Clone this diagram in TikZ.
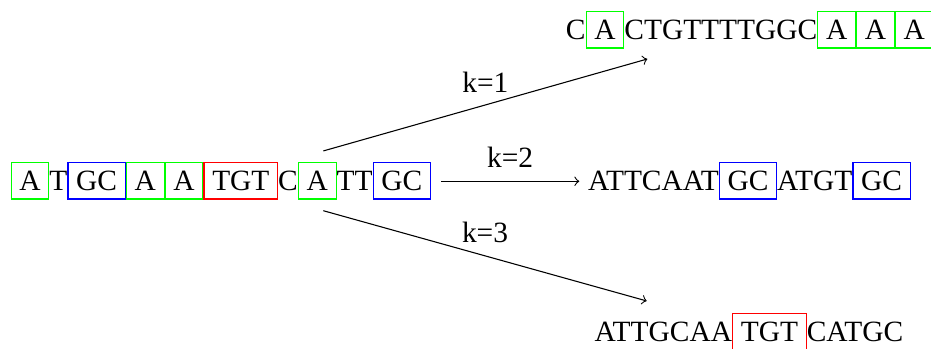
\documentclass[tikz,border=0pt]{standalone}
\usepackage{fontspec}
\setmainfont{Liberation Serif}
\usetikzlibrary{positioning}
\begin{document}
\begin{tikzpicture}[
    base/.style={font=\fontsize{10.9}{13}\selectfont, text height=7.3pt,
      text depth=0pt, outer sep=0pt},
    lett/.style={base, inner xsep=0pt, inner ysep=3.1pt},
    box/.style={base, draw=#1, inner xsep=3.05pt, inner ysep=3.1pt,
      outer xsep=0.2pt}]
    \useasboundingbox (0,0) rectangle (12.12,4.543);
    % sequenza di partenza
    \node[box=green, anchor=west] (s1) at (0.139,2.19) {A};
    \node[lett, right=0pt of s1] (s2) {T};
    \node[box=blue, right=0pt of s2] (s3) {GC};
    \node[box=green, right=0pt of s3] (s4) {A};
    \node[box=green, right=0pt of s4] (s5) {A};
    \node[box=red, right=0pt of s5] (s6) {TGT};
    \node[lett, right=0pt of s6] (s7) {C};
    \node[box=green, right=0pt of s7] (s8) {A};
    \node[lett, right=0pt of s8] (s9) {TT};
    \node[box=blue, right=0pt of s9] (s10) {GC};
    % k=1
    \node[lett, anchor=west] (u1) at (7.368,4.155) {C};
    \node[box=green, right=0pt of u1] (u2) {A};
    \node[lett, right=0pt of u2] (u3) {CTGTTTTGGC};
    \node[box=green, right=0pt of u3] (u4) {A};
    \node[box=green, right=0pt of u4] (u5) {A};
    \node[box=green, right=0pt of u5] (u6) {A};
    % k=2
    \node[lett, anchor=west] (m1) at (7.655,2.19) {ATTCAAT};
    \node[box=blue, right=0pt of m1] (m2) {GC};
    \node[lett, right=0pt of m2] (m3) {ATGT};
    \node[box=blue, right=0pt of m3] (m4) {GC};
    % k=3
    \node[lett, anchor=west] (b1) at (7.742,0.224) {ATTGCAA};
    \node[box=red, right=0pt of b1] (b2) {TGT};
    \node[lett, right=0pt of b2] (b3) {CATGC};
    % frecce
    \coordinate (P1) at (4.209,2.578);  \coordinate (Q1) at (8.427,3.775);
    \coordinate (P2) at (5.741,2.183);  \coordinate (Q2) at (7.541,2.183);
    \coordinate (P3) at (4.209,1.800);  \coordinate (Q3) at (8.419,0.625);
    \draw[->] (P1) -- node[lett, midway, above=1.7pt] (k1) {k=1} (Q1);
    \draw[->] (P2) -- node[lett, midway, above=1.9pt] (k2) {k=2} (Q2);
    \draw[->] (P3) -- node[lett, midway, above=1.7pt] (k3) {k=3} (Q3);
  \end{tikzpicture}
\end{document}
